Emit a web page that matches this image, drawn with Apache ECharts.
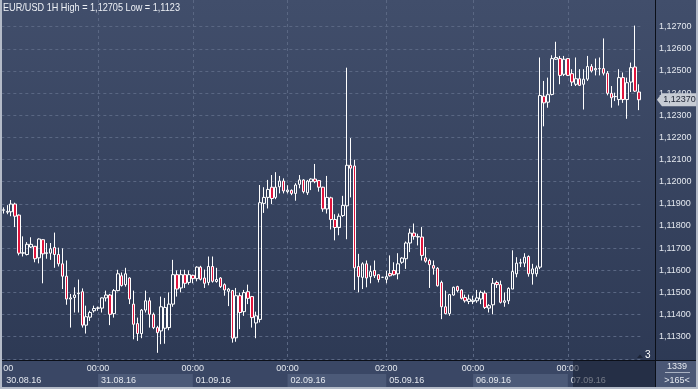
<!DOCTYPE html>
<html><head><meta charset="utf-8">
<script src="https://cdn.jsdelivr.net/npm/echarts@6/dist/echarts.min.js"></script>
<style>html,body{margin:0;padding:0;background:#2d3954;}#c{width:698px;height:389px;}</style>
</head><body><div id="c"></div>
<script>
const chartTitle = 'EUR/USD 1H High = 1,12705 Low = 1,1123';
// [open, close, low, high] hourly candles
const candles = [
[1.11871,1.11873,1.11856,1.11884],[1.11862,1.11866,1.11853,1.11894],[1.11864,1.11899,1.11844,1.11917],[1.11899,1.11844,1.11795,1.11905],
[1.11849,1.11677,1.11667,1.11852],[1.11677,1.11679,1.11662,1.11753],[1.11671,1.11717,1.11667,1.11727],[1.11705,1.11717,1.11700,1.11749],
[1.11708,1.11652,1.11636,1.11710],[1.11656,1.11741,1.11631,1.11744],[1.11738,1.11674,1.11541,1.11740],[1.11676,1.11679,1.11652,1.11723],
[1.11677,1.11697,1.11647,1.11723],[1.11703,1.11671,1.11611,1.11770],[1.11671,1.11629,1.11617,1.11702],[1.11629,1.11573,1.11515,1.11699],
[1.11573,1.11470,1.11444,1.11644],[1.11470,1.11475,1.11341,1.11493],[1.11477,1.11488,1.11409,1.11523],[1.11494,1.11497,1.11409,1.11558],
[1.11503,1.11352,1.11341,1.11518],[1.11352,1.11390,1.11314,1.11440],[1.11388,1.11409,1.11371,1.11417],[1.11417,1.11427,1.11409,1.11440],
[1.11428,1.11430,1.11417,1.11436],[1.11429,1.11475,1.11409,1.11477],[1.11475,1.11488,1.11459,1.11508],[1.11488,1.11401,1.11352,1.11493],
[1.11404,1.11508,1.11386,1.11515],[1.11508,1.11584,1.11505,1.11602],[1.11575,1.11531,1.11526,1.11590],[1.11535,1.11584,1.11526,1.11611],
[1.11565,1.11470,1.11447,1.11568],[1.11447,1.11356,1.11288,1.11508],[1.11359,1.11314,1.11281,1.11386],[1.11314,1.11420,1.11293,1.11425],
[1.11420,1.11462,1.11409,1.11508],[1.11462,1.11401,1.11341,1.11477],[1.11401,1.11341,1.11334,1.11409],[1.11341,1.11318,1.11227,1.11349],
[1.11326,1.11435,1.11266,1.11481],[1.11338,1.11432,1.11268,1.11475],[1.11341,1.11447,1.11329,1.11500],[1.11447,1.11580,1.11435,1.11647],
[1.11580,1.11515,1.11481,1.11599],[1.11520,1.11580,1.11500,1.11602],[1.11580,1.11541,1.11520,1.11602],[1.11545,1.11580,1.11535,1.11599],
[1.11577,1.11562,1.11541,1.11580],[1.11562,1.11614,1.11550,1.11618],[1.11614,1.11559,1.11554,1.11620],[1.11565,1.11541,1.11520,1.11603],
[1.11545,1.11617,1.11532,1.11662],[1.11617,1.11550,1.11544,1.11662],[1.11549,1.11558,1.11544,1.11611],[1.11565,1.11526,1.11520,1.11569],
[1.11535,1.11511,1.11485,1.11541],[1.11505,1.11515,1.11438,1.11520],[1.11508,1.11293,1.11273,1.11511],[1.11295,1.11485,1.11277,1.11520],
[1.11485,1.11409,1.11334,1.11499],[1.11413,1.11499,1.11394,1.11511],[1.11503,1.11473,1.11447,1.11535],[1.11481,1.11386,1.11341,1.11484],
[1.11362,1.11394,1.11293,1.11413],[1.11378,1.11905,1.11364,1.11985],[1.11902,1.11929,1.11859,1.11975],[1.11929,1.11965,1.11879,1.12008],
[1.11975,1.11924,1.11899,1.12030],[1.11929,1.11975,1.11921,1.12043],[1.11977,1.12003,1.11947,1.12026],[1.12003,1.11958,1.11947,1.12015],
[1.11955,1.11962,1.11947,1.11984],[1.11961,1.11947,1.11939,1.11965],[1.11947,1.11985,1.11914,1.11993],[1.11988,1.12008,1.11970,1.12030],
[1.12008,1.11955,1.11947,1.12011],[1.11950,1.12003,1.11940,1.12008],[1.12000,1.12012,1.11962,1.12015],[1.12012,1.12000,1.11993,1.12080],
[1.12005,1.11975,1.11955,1.12008],[1.11975,1.11877,1.11864,1.11977],[1.11877,1.11929,1.11856,1.12026],[1.11927,1.11829,1.11784,1.11932],
[1.11829,1.11793,1.11735,1.11853],[1.11793,1.11844,1.11758,1.11856],[1.11847,1.11893,1.11841,1.11936],[1.11891,1.12074,1.11740,1.12515],
[1.12074,1.12061,1.11929,1.12197],[1.12071,1.11611,1.11511,1.12099],[1.11617,1.11571,1.11500,1.11674],[1.11568,1.11629,1.11515,1.11636],
[1.11629,1.11565,1.11523,1.11644],[1.11571,1.11594,1.11541,1.11621],[1.11599,1.11575,1.11565,1.11644],[1.11580,1.11558,1.11545,1.11580],
[1.11568,1.11568,1.11566,1.11570],[1.11559,1.11571,1.11541,1.11597],[1.11585,1.11575,1.11571,1.11667],[1.11599,1.11580,1.11576,1.11636],
[1.11584,1.11629,1.11559,1.11677],[1.11636,1.11655,1.11629,1.11659],[1.11652,1.11723,1.11606,1.11730],[1.11723,1.11768,1.11682,1.11788],
[1.11768,1.11753,1.11738,1.11811],[1.11750,1.11752,1.11712,1.11765],[1.11750,1.11667,1.11644,1.11795],[1.11656,1.11641,1.11634,1.11705],
[1.11644,1.11625,1.11520,1.11652],[1.11621,1.11609,1.11580,1.11644],[1.11609,1.11530,1.11526,1.11614],[1.11545,1.11435,1.11379,1.11553],
[1.11435,1.11404,1.11401,1.11508],[1.11404,1.11490,1.11394,1.11493],[1.11488,1.11523,1.11485,1.11526],[1.11526,1.11508,1.11500,1.11530],
[1.11511,1.11473,1.11468,1.11515],[1.11477,1.11462,1.11454,1.11490],[1.11459,1.11470,1.11447,1.11490],[1.11459,1.11465,1.11447,1.11485],
[1.11462,1.11475,1.11453,1.11511],[1.11470,1.11500,1.11447,1.11508],[1.11497,1.11432,1.11425,1.11508],[1.11429,1.11440,1.11409,1.11447],
[1.11444,1.11541,1.11401,1.11565],[1.11545,1.11535,1.11520,1.11553],[1.11535,1.11455,1.11450,1.11553],[1.11455,1.11462,1.11435,1.11500],
[1.11462,1.11518,1.11447,1.11523],[1.11515,1.11594,1.11515,1.11690],[1.11584,1.11632,1.11568,1.11659],[1.11632,1.11634,1.11614,1.11652],
[1.11632,1.11659,1.11614,1.11677],[1.11662,1.11584,1.11571,1.11667],[1.11584,1.11606,1.11535,1.11629],[1.11584,1.11611,1.11571,1.11621],
[1.11614,1.12389,1.11605,1.12561],[1.12386,1.12356,1.12250,1.12455],[1.12359,1.12393,1.12334,1.12470],[1.12394,1.12556,1.12390,1.12571],
[1.12553,1.12561,1.12550,1.12632],[1.12556,1.12480,1.12440,1.12568],[1.12485,1.12553,1.12477,1.12568],[1.12556,1.12480,1.12477,1.12556],
[1.12488,1.12450,1.12432,1.12508],[1.12440,1.12465,1.12432,1.12561],[1.12465,1.12435,1.12432,1.12508],[1.12440,1.12463,1.12326,1.12508],
[1.12463,1.12520,1.12455,1.12568],[1.12520,1.12500,1.12493,1.12531],[1.12505,1.12511,1.12480,1.12556],[1.12510,1.12511,1.12480,1.12561],
[1.12511,1.12490,1.12480,1.12647],[1.12490,1.12399,1.12390,1.12500],[1.12399,1.12379,1.12334,1.12432],[1.12384,1.12385,1.12364,1.12402],
[1.12371,1.12470,1.12344,1.12508],[1.12470,1.12371,1.12356,1.12493],[1.12371,1.12447,1.12284,1.12470],[1.12450,1.12515,1.12405,1.12538],
[1.12518,1.12409,1.12405,1.12705],[1.12405,1.12370,1.12323,1.12440]
];
const priceMin = 1.112, priceMax = 1.127, priceStep = 0.001;
const dayTickIndex = [0, 24, 48, 72, 97, 119, 143];
const timeLabels = ['00', '00:00', '00:00', '00:00', '02:00', '00:00', '00:00'];
const dateLabels = ['30.08.16', '31.08.16', '01.09.16', '02.09.16', '05.09.16', '06.09.16', '07.09.16'];
const lastPrice = 1.12370;
const infoTop = '1339', infoBottom = '>165<', cornerCount = '3';

const cats = candles.map((_, i) => i);
const tickSet = new Set(dayTickIndex);
const fmt = v => v.toFixed(5).replace('.', ',');
const FONT = "'Liberation Sans', Arial, sans-serif";
const txt = '#e4e8ef';
const gridCol = '#5a6783';

const chart = echarts.init(document.getElementById('c'));
chart.setOption({
  animation: false,
  backgroundColor: {type: 'linear', x: 0, y: 0, x2: 0, y2: 1,
    colorStops: [{offset: 0, color: '#414e6b'}, {offset: 1, color: '#2c3853'}]},
  grid: [
    {left: 1.33, right: 57.1, top: 26.7, bottom: 30.2},
    {left: 3.3, right: 59.1, top: 0, bottom: 29},
    {left: 3.3, right: 59.1, top: 374, height: 13}
  ],
  xAxis: [
    {gridIndex: 0, type: 'category', data: cats, boundaryGap: true,
      axisLine: {show: false}, axisTick: {show: false}, axisLabel: {show: false}, splitLine: {show: false}},
    {gridIndex: 1, type: 'category', data: cats, boundaryGap: false,
      axisLine: {show: false}, axisTick: {show: false},
      splitLine: {show: true, interval: i => tickSet.has(i) && i > 0, lineStyle: {color: gridCol, type: [3, 3], width: 1}},
      axisLabel: {interval: i => tickSet.has(i), formatter: (v, i) => timeLabels[dayTickIndex.indexOf(i)],
        color: txt, fontSize: 9, fontFamily: FONT, margin: 4, alignMinLabel: 'left'}},
    {gridIndex: 2, type: 'category', data: cats, boundaryGap: false, position: 'top', z: 3,
      axisLine: {show: false}, axisTick: {show: false},
      splitArea: {show: true, interval: i => tickSet.has(i), areaStyle: {color: ['rgba(0,0,0,0)', '#4c5a78']}},
      axisLabel: {inside: true, interval: i => tickSet.has(i), formatter: (v, i) => dateLabels[dayTickIndex.indexOf(i)],
        align: 'left', padding: [0, 0, 0, 3], margin: 2, color: txt, fontSize: 9, fontFamily: FONT}}
  ],
  yAxis: [
    {gridIndex: 0, type: 'value', position: 'right', min: priceMin, max: priceMax, interval: priceStep,
      axisLine: {show: false}, axisTick: {show: false},
      splitLine: {lineStyle: {color: gridCol, type: [3, 3], width: 1}},
      axisLabel: {margin: 18, color: txt, fontSize: 9, fontFamily: FONT, formatter: fmt, showMinLabel: false}},
    {gridIndex: 1, type: 'value', show: false},
    {gridIndex: 2, type: 'value', show: false}
  ],
  series: [{
    type: 'candlestick', xAxisIndex: 0, yAxisIndex: 0, data: candles, barWidth: 3, clip: false,
    itemStyle: {color: 'rgba(0,0,0,0)', color0: '#e0143c', borderColor: '#ffffff', borderColor0: '#ffffff',
      borderColorDoji: '#ffffff', borderWidth: 1},
    markPoint: {
      silent: true,
      symbol: 'path://M0,6.5 L5,0 L41,0 L41,13 L5,13 Z',
      symbolSize: [41, 13], symbolOffset: [38.5, 0],
      itemStyle: {color: '#c7ccd4'},
      label: {show: true, formatter: fmt(lastPrice), color: '#1b2232', fontSize: 9, fontFamily: FONT, offset: [2, 0]},
      data: [{coord: [candles.length - 1, lastPrice]}]
    }
  }],
  graphic: [
    {type: 'text', x: 3, y: 2, scaleX: 0.83, style: {text: chartTitle, fill: '#eef1f6', font: "11px 'Liberation Sans'", align: 'left', verticalAlign: 'top'}, z: 10, silent: true},
    {type: 'rect', shape: {x: 0, y: 361, width: 698, height: 28}, style: {fill: '#3a4765'}, z: -1, silent: true},
    {type: 'rect', shape: {x: 573, y: 361, width: 82, height: 26}, style: {fill: 'rgba(20,28,46,0.55)'}, z: 20, silent: true},
    {type: 'rect', shape: {x: 656, y: 361, width: 42, height: 28}, style: {fill: '#4a5775'}, z: 21, silent: true},
    {type: 'line', shape: {x1: 0, y1: 360.5, x2: 698, y2: 360.5}, style: {stroke: '#0b0f18', lineWidth: 1}, z: 22, silent: true},
    {type: 'line', shape: {x1: 655.5, y1: 0, x2: 655.5, y2: 389}, style: {stroke: '#0b0f18', lineWidth: 1}, z: 22, silent: true},
    {type: 'text', x: 677, y: 366.5, style: {text: infoTop, fill: txt, font: "9px 'Liberation Sans'", align: 'center', verticalAlign: 'middle'}, z: 23, silent: true},
    {type: 'line', shape: {x1: 665, y1: 372.5, x2: 690, y2: 372.5}, style: {stroke: '#aab2c2', lineWidth: 1}, z: 23, silent: true},
    {type: 'text', x: 677, y: 380.5, style: {text: infoBottom, fill: txt, font: "9px 'Liberation Sans'", align: 'center', verticalAlign: 'middle'}, z: 23, silent: true},
    {type: 'polygon', shape: {points: [[637, 358], [640, 354.5], [643, 358]]}, style: {fill: '#1c2436'}, z: 23, silent: true},
    {type: 'text', x: 645, y: 355, style: {text: cornerCount, fill: '#ffffff', font: "10px 'Liberation Sans'", align: 'left', verticalAlign: 'middle'}, z: 23, silent: true},
    {type: 'rect', shape: {x: 0, y: 0, width: 2, height: 389}, style: {fill: '#b4bbc8'}, z: 30, silent: true},
    {type: 'rect', shape: {x: 696, y: 0, width: 2, height: 389}, style: {fill: '#b4bbc8'}, z: 30, silent: true},
    {type: 'rect', shape: {x: 0, y: 387, width: 698, height: 2}, style: {fill: '#b4bbc8'}, z: 30, silent: true}
  ]
});
</script></body></html>
